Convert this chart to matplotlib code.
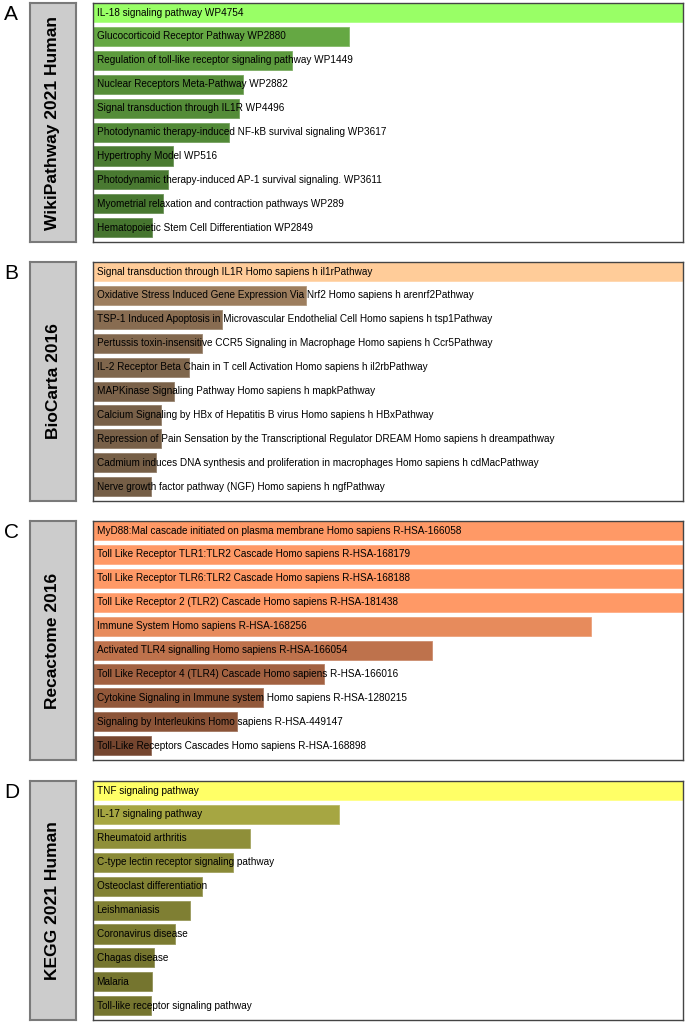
import matplotlib
matplotlib.use("Agg")
import matplotlib.pyplot as plt
from matplotlib.colors import to_rgb

plt.rcParams['font.family'] = ['Liberation Sans', 'DejaVu Sans']

# ---------------- data ----------------
panel_letters = ["A", "B", "C", "D"]
library_names = ["WikiPathway 2021 Human", "BioCarta 2016", "Recactome 2016", "KEGG 2021 Human"]

wiki_terms = [
    "IL-18 signaling pathway WP4754",
    "Glucocorticoid Receptor Pathway WP2880",
    "Regulation of toll-like receptor signaling pathway WP1449",
    "Nuclear Receptors Meta-Pathway WP2882",
    "Signal transduction through IL1R WP4496",
    "Photodynamic therapy-induced NF-kB survival signaling WP3617",
    "Hypertrophy Model WP516",
    "Photodynamic therapy-induced AP-1 survival signaling. WP3611",
    "Myometrial relaxation and contraction pathways WP289",
    "Hematopoietic Stem Cell Differentiation WP2849",
]
wiki_scores = [1.0, 0.434, 0.337, 0.254, 0.247, 0.231, 0.136, 0.127, 0.119, 0.100]

biocarta_terms = [
    "Signal transduction through IL1R Homo sapiens h il1rPathway",
    "Oxidative Stress Induced Gene Expression Via Nrf2 Homo sapiens h arenrf2Pathway",
    "TSP-1 Induced Apoptosis in Microvascular Endothelial Cell Homo sapiens h tsp1Pathway",
    "Pertussis toxin-insensitive CCR5 Signaling in Macrophage Homo sapiens h Ccr5Pathway",
    "IL-2 Receptor Beta Chain in T cell Activation Homo sapiens h il2rbPathway",
    "MAPKinase Signaling Pathway Homo sapiens h mapkPathway",
    "Calcium Signaling by HBx of Hepatitis B virus Homo sapiens h HBxPathway",
    "Repression of Pain Sensation by the Transcriptional Regulator DREAM Homo sapiens h dreampathway",
    "Cadmium induces DNA synthesis and proliferation in macrophages Homo sapiens h cdMacPathway",
    "Nerve growth factor pathway (NGF) Homo sapiens h ngfPathway",
]
biocarta_scores = [1.0, 0.361, 0.219, 0.185, 0.163, 0.137, 0.115, 0.115, 0.107, 0.098]

reactome_terms = [
    "MyD88:Mal cascade initiated on plasma membrane Homo sapiens R-HSA-166058",
    "Toll Like Receptor TLR1:TLR2 Cascade Homo sapiens R-HSA-168179",
    "Toll Like Receptor TLR6:TLR2 Cascade Homo sapiens R-HSA-168188",
    "Toll Like Receptor 2 (TLR2) Cascade Homo sapiens R-HSA-181438",
    "Immune System Homo sapiens R-HSA-168256",
    "Activated TLR4 signalling Homo sapiens R-HSA-166054",
    "Toll Like Receptor 4 (TLR4) Cascade Homo sapiens R-HSA-166016",
    "Cytokine Signaling in Immune system Homo sapiens R-HSA-1280215",
    "Signaling by Interleukins Homo sapiens R-HSA-449147",
    "Toll-Like Receptors Cascades Homo sapiens R-HSA-168898",
]
reactome_scores = [1.0, 1.0, 1.0, 1.0, 0.844, 0.575, 0.392, 0.288, 0.244, 0.098]

kegg_terms = [
    "TNF signaling pathway",
    "IL-17 signaling pathway",
    "Rheumatoid arthritis",
    "C-type lectin receptor signaling pathway",
    "Osteoclast differentiation",
    "Leishmaniasis",
    "Coronavirus disease",
    "Chagas disease",
    "Malaria",
    "Toll-like receptor signaling pathway",
]
kegg_scores = [1.0, 0.417, 0.266, 0.237, 0.185, 0.164, 0.139, 0.103, 0.100, 0.098]

base_colors = ["#99FF66", "#FFCC99", "#FF9966", "#FFFF66"]

panels = [
    (wiki_terms, wiki_scores),
    (biocarta_terms, biocarta_scores),
    (reactome_terms, reactome_scores),
    (kegg_terms, kegg_scores),
]

# ---------------- figure ----------------
W, H = 685, 1023
fig = plt.figure(figsize=(W / 100, H / 100), dpi=100)
fig.patch.set_facecolor("white")

def fx(px):
    return px / W

def fy(py):
    return 1 - py / H

panel_tops = [3, 262, 521, 781]
panel_h = 239
ax_left, ax_right = 93, 683
box_left, box_right = 30, 76


def shade(base, v):
    r, g, b = to_rgb(base)
    if v >= 0.999:
        return (r, g, b)
    f = 0.40 + 0.60 * v
    return (r * f, g * f, b * f)


for k, (terms, scores) in enumerate(panels):
    top = panel_tops[k]
    bottom = top + panel_h
    # label box
    bax = fig.add_axes([fx(box_left), fy(bottom), fx(box_right - box_left), panel_h / H])
    bax.set_facecolor("#CCCCCC")
    bax.set_xticks([])
    bax.set_yticks([])
    for s in bax.spines.values():
        s.set_color("#7a7a7a")
        s.set_linewidth(1.5)
    bax.text(0.5, 0.5, library_names[k], rotation=90, ha="center", va="center",
             fontsize=12.5, fontweight="bold", color="black", transform=bax.transAxes)

    # panel letter
    fig.text(fx(4), fy(top + 2), panel_letters[k], fontsize=15, ha="left", va="top")

    # bar axes
    ax = fig.add_axes([fx(ax_left), fy(bottom), fx(ax_right - ax_left), panel_h / H])
    ypos = list(range(len(terms)))
    colors = [shade(base_colors[k], v) for v in scores]
    edge = [tuple(min(1, c * 0.8 + 0.2) for c in col) for col in colors]
    ax.barh(ypos, scores, height=0.8, color=colors, edgecolor=edge, linewidth=0.6)
    ax.set_xlim(0, 1)
    ax.set_ylim(9.6, -0.4)
    ax.set_xticks([])
    ax.set_yticks([])
    for s in ax.spines.values():
        s.set_color("#444444")
        s.set_linewidth(1.0)
    for i, t in enumerate(terms):
        ax.text(0.006, i, t, ha="left", va="center", fontsize=7.2, color="black")

fig.savefig("out.png", dpi=100)
